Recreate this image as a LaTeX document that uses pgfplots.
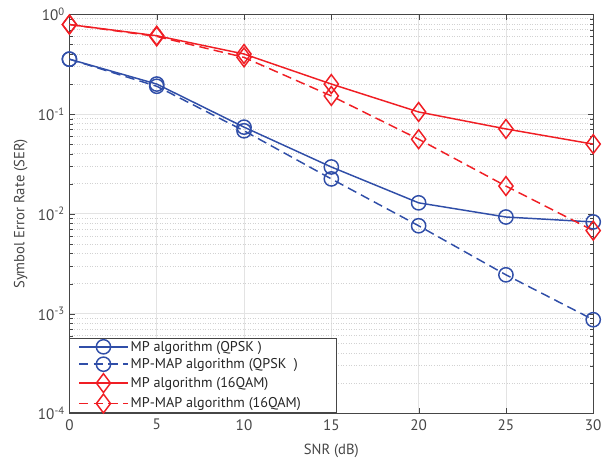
\documentclass[border=0pt]{standalone}
\usepackage{pgfplots}
\pgfplotsset{compat=1.18}
\usepackage{fontspec}
\setmainfont{PT Sans}
\definecolor{myblue}{RGB}{48,78,168}
\definecolor{myred}{RGB}{240,30,36}
\definecolor{axgray}{RGB}{70,70,70}
\begin{document}
\begin{tikzpicture}
\begin{axis}[
  name=ax,
  scale only axis,
  width=500pt, height=381pt,
  ymode=log,
  xmin=0, xmax=30, ymin=1e-4, ymax=1,
  xtick={0,5,10,15,20,25,30},
  ytick={1e-4,1e-3,1e-2,1e-1,1},
  yticklabels={10\textsuperscript{-4},10\textsuperscript{-3},10\textsuperscript{-2},10\textsuperscript{-1},10\textsuperscript{0}},
  /pgf/number format/assume math mode=true,
  tick label style={font=\fontsize{14.5}{16}\selectfont, text=axgray},
  yticklabel style={xshift=-1pt},
  xticklabel style={yshift=-2pt},
  label style={font=\fontsize{14}{16}\selectfont, text=axgray},
  xlabel={SNR (dB)},
  ylabel={Symbol Error Rate (SER)},
  xlabel style={yshift=-6pt},
  ylabel style={yshift=3pt},
  axis line style={axgray, line width=0.9pt},
  tick style={axgray},
  major tick length=5pt,
  minor tick length=3pt,
  xmajorgrids, ymajorgrids, yminorgrids,
  major grid style={gray!22, line width=0.8pt},
  minor grid style={gray!35, dotted, line width=0.7pt},
  legend cell align=left,
  legend style={at={(0,0)}, anchor=south west, draw=axgray, line width=0.9pt,
    font=\fontsize{13.5}{15}\selectfont, inner xsep=8pt, inner ysep=0pt,
    row sep=1.5pt, text=black!85},
  legend image code/.code={
    \draw[mark repeat=2,mark phase=2,#1] plot coordinates {(0cm,0cm) (0.82cm,0cm) (1.64cm,0cm)};
  },
]
\addplot[myblue, line width=1.4pt, mark=o, mark size=6.8pt, mark options={solid, line width=1.4pt}]
coordinates {(0,0.355) (5,0.20) (10,0.074) (15,0.0295) (20,0.0129) (25,0.0093) (30,0.0083)};
\addlegendentry{MP algorithm (QPSK )}
\addplot[myblue, line width=1.4pt, dash pattern=on 9pt off 5pt, mark=o, mark size=6.8pt, mark options={solid, line width=1.4pt}]
coordinates {(0,0.355) (5,0.19) (10,0.068) (15,0.0224) (20,0.0076) (25,0.00245) (30,0.00087)};
\addlegendentry{MP-MAP algorithm (QPSK\ \ )}
\addplot[myred, line width=1.4pt, mark=diamond, mark size=9pt, mark options={solid, line width=1.4pt}]
coordinates {(0,0.79) (5,0.61) (10,0.40) (15,0.20) (20,0.105) (25,0.071) (30,0.050)};
\addlegendentry{MP algorithm (16QAM)}
\addplot[myred, line width=1.4pt, dash pattern=on 9pt off 5pt, mark=diamond, mark size=9pt, mark options={solid, line width=1.4pt}]
coordinates {(0,0.79) (5,0.60) (10,0.37) (15,0.152) (20,0.056) (25,0.019) (30,0.0068)};
\addlegendentry{MP-MAP algorithm (16QAM)\rule{24pt}{0pt}}
\end{axis}
\path ([xshift=-10pt]current bounding box.west);
\path ([yshift=4pt]current bounding box.north);
\end{tikzpicture}
\end{document}
